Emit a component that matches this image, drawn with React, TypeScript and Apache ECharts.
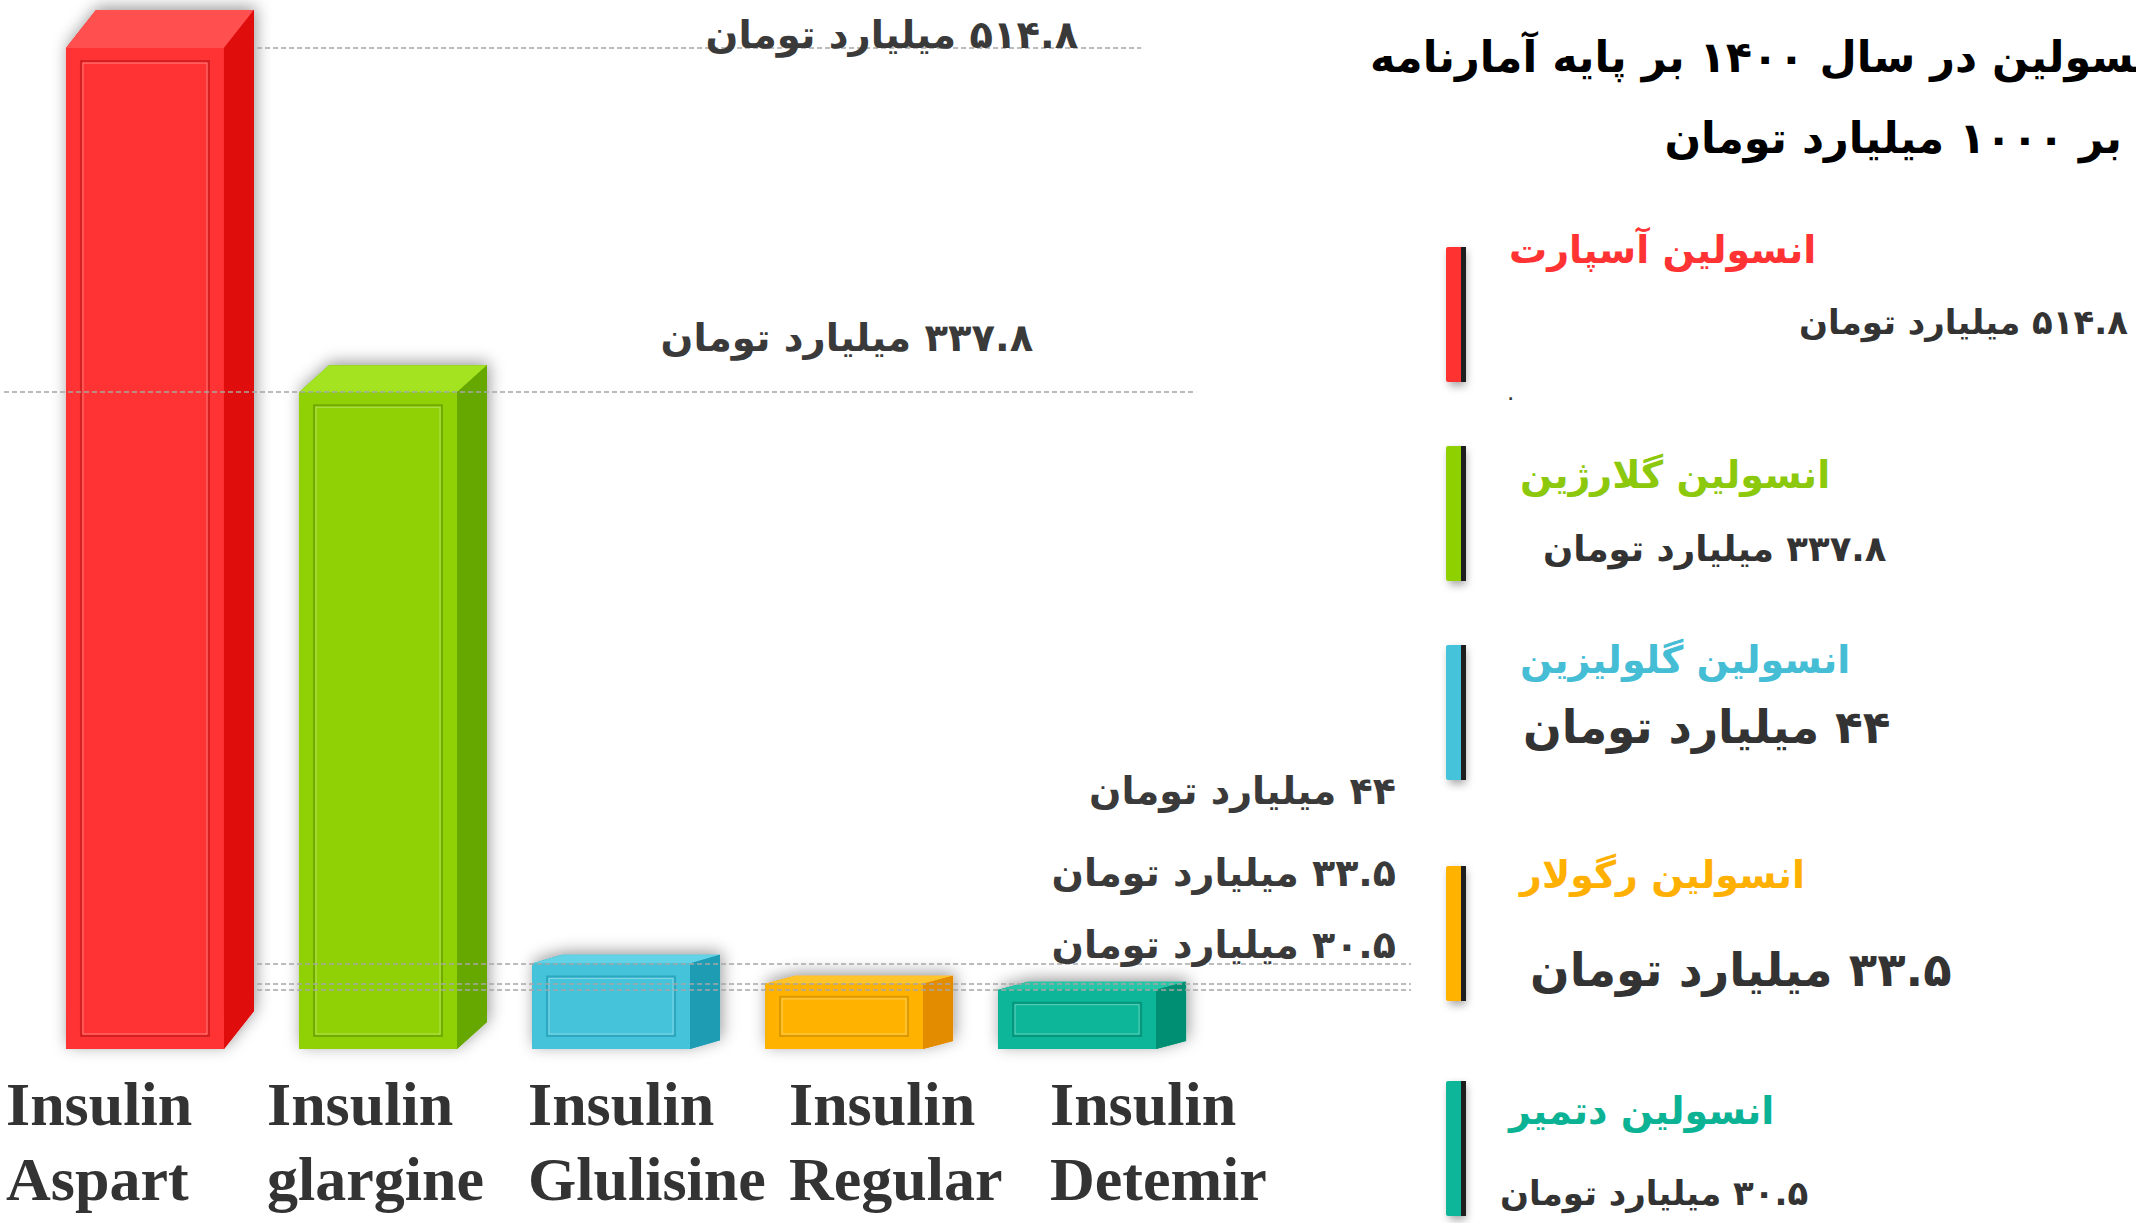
import React, { useEffect, useRef } from "react";
import * as echarts from "echarts";

// ---------- data ----------
const categories = [
  "Insulin\nAspart",
  "Insulin\nglargine",
  "Insulin\nGlulisine",
  "Insulin\nRegular",
  "Insulin\nDetemir",
];
const values = [514.8, 337.8, 44, 33.5, 30.5];
const persianNames = [
  "انسولین آسپارت",
  "انسولین گلارژین",
  "انسولین گلولیزین",
  "انسولین رگولار",
  "انسولین دتمیر",
];
const unitText = "میلیارد تومان";
const titleLines = [
  "انسولین در سال ۱۴۰۰ بر پایه آمارنامه",
  "بر ۱۰۰۰ میلیارد تومان",
];

// ---------- styles ----------
const frontColors = ["#ff3333", "#8fd104", "#45c3da", "#ffb300", "#0db699"];
const sideColors = ["#e00d0d", "#66a800", "#1e9cb4", "#e38c00", "#008f72"];
const topColors = ["#ff4f4f", "#a3e320", "#62d2e6", "#ffc42a", "#25c5a7"];
const bevelColors = ["#d42020", "#72ab00", "#2ca7be", "#dc9a00", "#06967d"];
const legendTextColors = ["#ff3333", "#8cc80c", "#45bdd5", "#ffb000", "#0bb394"];

const RLM = "\u200F";
const FA_FONT = "'DejaVu Sans', 'Noto Sans', sans-serif";
const toFa = (s: string) => s.replace(/\d/g, (d) => "۰۱۲۳۴۵۶۷۸۹"[+d]);
const valueText = (v: number) => RLM + toFa(String(v)) + " " + unitText;

// layout (not data)
const BAR_W = 158;
const DEPTH_X = 30;
// dashed guide line extents in x-axis units, and label offsets
const guideExtents = [
  [0.481, 4.275],
  [-0.605, 4.511],
  [0.481, 5.433],
  [0.481, 5.433],
  [0.481, 5.433],
];
const markLabelOffsets = [
  [-58, 11],
  [-158, -30],
  [-10, -148],
  [-10, -87],
  [-10, -21],
];
const legendLayout = [
  { barY: 247, titleX: 1509, titleY: 250, valX: 1799, valY: 322, valSize: 34 },
  { barY: 446, titleX: 1520, titleY: 475, valX: 1543, valY: 548, valSize: 35.5 },
  { barY: 645, titleX: 1520, titleY: 660, valX: 1523, valY: 727, valSize: 45.5 },
  { barY: 866, titleX: 1520, titleY: 875, valX: 1530, valY: 970, valSize: 46.5 },
  { barY: 1081, titleX: 1509, titleY: 1111, valX: 1500, valY: 1193, valSize: 34 },
];

export default function App() {
  const ref = useRef<HTMLDivElement>(null);
  useEffect(() => {
    document.body.style.margin = "0";
    const chart = echarts.init(ref.current!, null, { renderer: "svg" });

    const graphics: any[] = [];
    titleLines.forEach((t, i) => {
      graphics.push({
        type: "text",
        x: i === 0 ? 2166 : 2122,
        y: i === 0 ? 57 : 138,
        style: {
          text: RLM + t,
          fill: "#000",
          font: `bold 43px ${FA_FONT}`,
          align: "right",
          verticalAlign: "middle",
        },
      });
    });
    persianNames.forEach((name, i) => {
      const L = legendLayout[i];
      graphics.push({
        type: "rect",
        shape: { x: 1446, y: L.barY, width: 17, height: 135, r: 2 },
        style: {
          fill: frontColors[i],
          shadowBlur: 8,
          shadowColor: "rgba(0,0,0,0.35)",
          shadowOffsetX: 3,
          shadowOffsetY: 4,
        },
      });
      graphics.push({
        type: "rect",
        shape: { x: 1461, y: L.barY, width: 5, height: 135 },
        style: { fill: "#1e1e1e" },
      });
      graphics.push({
        type: "text",
        x: L.titleX,
        y: L.titleY,
        style: {
          text: RLM + name,
          fill: legendTextColors[i],
          font: `bold 38px ${FA_FONT}`,
          align: "left",
          verticalAlign: "middle",
        },
      });
      graphics.push({
        type: "text",
        x: L.valX,
        y: L.valY,
        style: {
          text: valueText(values[i]),
          fill: "#333",
          font: `bold ${L.valSize}px ${FA_FONT}`,
          align: "left",
          verticalAlign: "middle",
        },
      });
    });
    graphics.push({
      type: "text",
      x: 1508,
      y: 388,
      style: { text: ".", fill: "#333", font: `bold 14px ${FA_FONT}` },
    });

    chart.setOption({
      animation: false,
      backgroundColor: "#ffffff",
      grid: [
        { left: 4, width: 1407, top: 38, bottom: 174 },
        { left: 6, width: 1044, top: 38, bottom: 174 },
      ],
      xAxis: [
        { type: "value", gridIndex: 0, min: -0.605, max: 5.433, show: false },
        {
          type: "category",
          gridIndex: 1,
          data: categories,
          boundaryGap: false,
          axisLine: { show: false },
          axisTick: { show: false },
          axisLabel: {
            interval: 0,
            align: "left",
            margin: 17,
            fontSize: 62,
            lineHeight: 75,
            fontWeight: "bold",
            fontFamily: "'Liberation Serif', 'Times New Roman', serif",
            color: "#333",
          },
        },
      ],
      yAxis: [
        { type: "value", gridIndex: 0, min: 0, max: 520, show: false },
        { type: "value", gridIndex: 1, min: 0, max: 520, show: false },
      ],
      series: [
        {
          type: "line",
          xAxisIndex: 0,
          yAxisIndex: 0,
          data: [],
          z: 1,
          markLine: {
            silent: true,
            symbol: ["none", "none"],
            lineStyle: { color: "#a6a6a6", type: [5, 3], width: 1.5 },
            data: values.map((v, i) => [
              {
                coord: [guideExtents[i][0], v],
                label: {
                  show: true,
                  position: "insideEndTop",
                  formatter: valueText(v),
                  color: "#3a3a3a",
                  fontSize: i < 2 ? 38.5 : 38,
                  fontWeight: "bold",
                  fontFamily: FA_FONT,
                  offset: markLabelOffsets[i],
                },
              },
              { coord: [guideExtents[i][1], v] },
            ]),
          },
        },
        {
          type: "custom",
          xAxisIndex: 0,
          yAxisIndex: 0,
          z: 2,
          data: values.map((v, i) => [i, v]),
          renderItem: (params: any, api: any) => {
            const i = api.value(0);
            const v = api.value(1);
            const top = api.coord([i, v]);
            const base = api.coord([i, 0]);
            const x0 = top[0] - BAR_W / 2;
            const x1 = top[0] + BAR_W / 2;
            const yT = top[1];
            const yB = base[1];
            const h = yB - yT;
            const dx = DEPTH_X;
            const dy = 6 + 0.032 * h;
            const ins = Math.min(13, h * 0.22);
            return {
              type: "group",
              children: [
                {
                  type: "polygon",
                  shape: {
                    points: [
                      [x0, yT],
                      [x0 + dx, yT - dy],
                      [x1 + dx, yT - dy],
                      [x1 + dx, yB - dy],
                      [x1, yB],
                      [x0, yB],
                    ],
                  },
                  style: {
                    fill: sideColors[i],
                    shadowBlur: 16,
                    shadowColor: "rgba(0,0,0,0.4)",
                    shadowOffsetX: 2,
                    shadowOffsetY: -3,
                  },
                },
                {
                  type: "rect",
                  shape: { x: x0, y: yT, width: BAR_W, height: h },
                  style: { fill: frontColors[i] },
                },
                {
                  type: "polygon",
                  shape: {
                    points: [
                      [x0, yT],
                      [x0 + dx, yT - dy],
                      [x1 + dx, yT - dy],
                      [x1, yT],
                    ],
                  },
                  style: { fill: topColors[i] },
                },
                {
                  type: "polygon",
                  shape: {
                    points: [
                      [x1, yT],
                      [x1 + dx, yT - dy],
                      [x1 + dx, yB - dy],
                      [x1, yB],
                    ],
                  },
                  style: { fill: sideColors[i] },
                },
                {
                  type: "rect",
                  shape: {
                    x: x0 + ins + 2,
                    y: yT + ins,
                    width: BAR_W - 2 * ins - 4,
                    height: Math.max(2, h - 2 * ins),
                  },
                  style: { fill: "none", stroke: bevelColors[i], lineWidth: 2 },
                },
                {
                  type: "rect",
                  shape: {
                    x: x0 + ins + 4,
                    y: yT + ins + 2,
                    width: BAR_W - 2 * ins - 8,
                    height: Math.max(1, h - 2 * ins - 4),
                  },
                  style: {
                    fill: "none",
                    stroke: "rgba(255,255,255,0.35)",
                    lineWidth: 1,
                  },
                },
              ],
            };
          },
        },
      ],
      graphic: graphics,
    });
    return () => chart.dispose();
  }, []);
  return <div ref={ref} style={{ width: 2136, height: 1223 }} />;
}
